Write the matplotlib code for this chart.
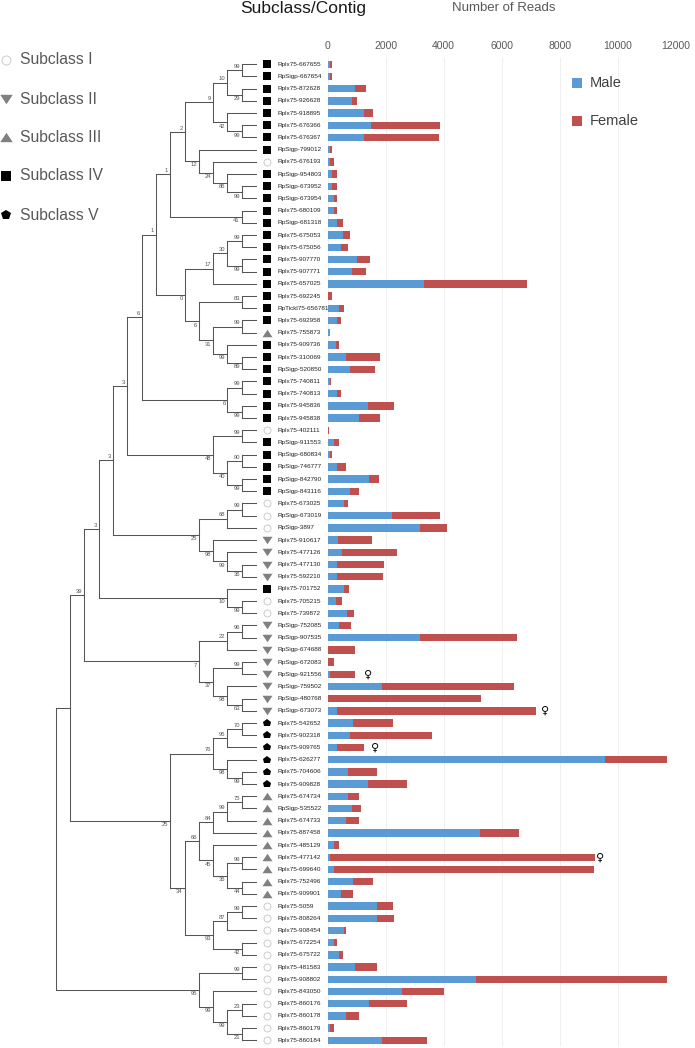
import matplotlib
matplotlib.use("Agg")
import matplotlib.pyplot as plt

plt.rcParams['font.family'] = ['Liberation Sans', 'DejaVu Sans']

# Contigs in tree order (top to bottom) and their subclass (1..5)
contigs = [
    "Rplx75-667655", "RpSigp-667654", "Rplx75-872628", "Rplx75-926628", "Rplx75-918895",
    "Rplx75-676366", "Rplx75-676367", "RpSigp-799012", "Rplx75-676193", "RpSigp-954803",
    "RpSigp-673952", "RpSigp-673954", "Rplx75-680109", "RpSigp-681318", "Rplx75-675053",
    "Rplx75-675056", "Rplx75-907770", "Rplx75-907771", "Rplx75-657025", "Rplx75-692245",
    "RpTickl75-656781", "Rplx75-692958", "Rplx75-755873", "Rplx75-909736", "Rplx75-310069",
    "RpSigp-520850", "Rplx75-740811", "Rplx75-740813", "Rplx75-945836", "Rplx75-945838",
    "Rplx75-402111", "RpSigp-911553", "RpSigp-680834", "RpSigp-746777", "RpSigp-842790",
    "RpSigp-843116", "Rplx75-673025", "RpSigp-673019", "RpSigp-3897", "Rplx75-910617",
    "Rplx75-477126", "Rplx75-477130", "Rplx75-592210", "Rplx75-701752", "Rplx75-705215",
    "Rplx75-739872", "RpSigp-752085", "RpSigp-907535", "RpSigp-674688", "RpSigp-672083",
    "RpSigp-921556", "RpSigp-759502", "RpSigp-480768", "RpSigp-673073", "Rplx75-542652",
    "Rplx75-902318", "Rplx75-909765", "Rplx75-626277", "Rplx75-704606", "Rplx75-909828",
    "Rplx75-674734", "RpSigp-535522", "Rplx75-674733", "Rplx75-887458", "Rplx75-485129",
    "Rplx75-477142", "Rplx75-699640", "Rplx75-752496", "Rplx75-909901", "Rplx75-5059",
    "Rplx75-808264", "Rplx75-908454", "Rplx75-672254", "Rplx75-675722", "Rplx75-481583",
    "Rplx75-908802", "Rplx75-843050", "Rplx75-860176", "Rplx75-860178", "Rplx75-860179",
    "Rplx75-860184",
]
subclass = [
    4, 4, 4, 4, 4, 4, 4, 4, 1, 4,
    4, 4, 4, 4, 4, 4, 4, 4, 4, 4,
    4, 4, 3, 4, 4, 4, 4, 4, 4, 4,
    1, 4, 4, 4, 4, 4, 1, 1, 1, 2,
    2, 2, 2, 4, 1, 1, 2, 2, 2, 2,
    2, 2, 2, 2, 5, 5, 5, 5, 5, 5,
    3, 3, 3, 3, 3, 3, 3, 3, 3, 1,
    1, 1, 1, 1, 1, 1, 1, 1, 1, 1,
    1,
]
male = [
    100, 100, 960, 830, 1240, 1510, 1240, 100, 70, 170,
    170, 240, 240, 340, 520, 450, 1030, 830, 3340, 0,
    410, 310, 100, 280, 650, 760, 100, 340, 1410, 1100,
    30, 240, 100, 340, 1440, 760, 570, 2210, 3200, 360,
    510, 340, 340, 570, 280, 660, 410, 3200, 0, 0,
    100, 1890, 30, 340, 890, 760, 340, 9560, 720, 1410,
    720, 860, 620, 5260, 210, 70, 210, 890, 450, 1690,
    1690, 580, 210, 410, 930, 5130, 2580, 1440, 620, 100,
    1860,
]
female = [
    70, 40, 350, 200, 310, 2380, 2610, 40, 140, 140,
    140, 100, 70, 180, 270, 240, 450, 480, 3540, 140,
    170, 140, 0, 100, 1170, 860, 10, 110, 890, 720,
    10, 140, 70, 280, 350, 310, 140, 1650, 930, 1160,
    1870, 1600, 1580, 180, 230, 260, 400, 3340, 960, 240,
    830, 4540, 5270, 6850, 1380, 2850, 900, 2140, 1000, 1340,
    380, 310, 450, 1340, 170, 9150, 8970, 660, 440, 580,
    610, 70, 100, 110, 790, 6570, 1440, 1310, 450, 110,
    1550,
]
# rows flagged with a female sign, and where the sign sits (reads)
female_rows = [50, 53, 56, 65]
female_sign_x = [1380, 7500, 1650, 9390]

# Tree topology (leaf = row index), bootstrap values after the closing bracket
TREE = (
    "(((((((((((((0,1)99,(2,3)29)10,(4,(5,6)99)42)9,(7,(8,(9,(10,11)99)86)24)12)2,(12,13)41)1,"
    "((((14,15)99,(16,17)99)30,18)17,((19,20)83,((21,22)99,(23,(24,25)89)99)31)6)0)1,"
    "((26,27)99,(28,29)99)6)6,"
    "((30,31)99,((32,33)90,(34,35)99)40)48)3,"
    "(((36,37)99,38)68,(39,(40,(41,42)36)99)98)25)3,"
    "(43,(44,45)99)10)3,"
    "(((46,47)96,48)22,((49,50)99,(51,(52,53)63)98)37)7)39,"
    "((((54,55)70,56)95,(57,(58,59)99)98)76,"
    "(((((60,61)75,62)99,63)84,(64,((65,66)99,(67,68)44)36)45)66,"
    "(((69,70)99,71)87,(72,73)42)93)34)25),"
    "((74,75)99,(76,((77,78)23,(79,80)21)99)99)95);"
)

subclass_names = ["Subclass I", "Subclass II", "Subclass III", "Subclass IV", "Subclass V"]

# flattened triangles, like the reference glyphs
TRI_DOWN = [(-1, 0.75), (1, 0.75), (0, -0.75), (-1, 0.75)]
TRI_UP = [(-1, -0.75), (1, -0.75), (0, 0.75), (-1, -0.75)]
MARKERS = {
    1: dict(marker='o', ms=5.0, mfc='white', mec='#c4c4c4', mew=0.6),
    2: dict(marker=TRI_DOWN, ms=7.2, mfc='#808080', mec='#808080', mew=0),
    3: dict(marker=TRI_UP, ms=7.2, mfc='#808080', mec='#808080', mew=0),
    4: dict(marker='s', ms=5.6, mfc='black', mec='black', mew=0),
    5: dict(marker='p', ms=6.2, mfc='black', mec='black', mew=0),
}
BLUE = '#5b9bd5'
RED = '#c0504d'
LINE = '#555555'

W, H = 695, 1048
LEAF_X = 256.0
STEP = 14.3
ROW0_PX, ROW_STEP_PX = 64.3, 12.2


def parse_newick(s):
    pos = 0

    def node():
        nonlocal pos
        if s[pos] == '(':
            pos += 1
            kids = [node()]
            while s[pos] == ',':
                pos += 1
                kids.append(node())
            pos += 1  # closing bracket
            start = pos
            while s[pos] not in ',);':
                pos += 1
            return {'kids': kids, 'label': s[start:pos]}
        start = pos
        while s[pos] not in ',)':
            pos += 1
        return {'leaf': int(s[start:pos])}

    return node()


def layout(n):
    """Cladogram layout: leaves aligned, each node one step left of its deepest child."""
    if 'leaf' in n:
        n['h'] = 0
        n['y'] = n['leaf']
    else:
        for k in n['kids']:
            layout(k)
        n['h'] = max(k['h'] for k in n['kids']) + 1
        n['y'] = (n['kids'][0]['y'] + n['kids'][-1]['y']) / 2.0
    n['x'] = LEAF_X - STEP * n['h']


def draw_tree(ax, n):
    if 'kids' not in n:
        return
    ax.plot([n['x'], n['x']], [n['kids'][0]['y'], n['kids'][-1]['y']], color=LINE, lw=0.75)
    for i, k in enumerate(n['kids']):
        ax.plot([n['x'], k['x']], [k['y'], k['y']], color=LINE, lw=0.75)
        if k.get('label'):
            above = (i == 0)
            ax.annotate(k['label'], (k['x'], k['y']),
                        xytext=(-1.3, 0.9 if above else -0.9), textcoords='offset points',
                        ha='right', va='bottom' if above else 'top',
                        fontsize=4.2, color='#555555')
        draw_tree(ax, k)


fig = plt.figure(figsize=(W / 100, H / 100), dpi=100)
fig.patch.set_facecolor('white')

n_rows = len(contigs)
top_px = ROW0_PX - ROW_STEP_PX / 2
bot_px = ROW0_PX + ROW_STEP_PX * (n_rows - 0.5)
ax_pos_y = 1 - bot_px / H
ax_pos_h = (bot_px - top_px) / H

# Bars (drawn first so the tree labels sit on top)
ax_bar = fig.add_axes([327.5 / W, ax_pos_y, 348.5 / W, ax_pos_h])
ax_bar.patch.set_alpha(0)
rows = list(range(n_rows))
ax_bar.barh(rows, male, height=0.6, color=BLUE, label='Male', zorder=2)
ax_bar.barh(rows, female, left=male, height=0.6, color=RED, label='Female', zorder=2)
for r, xv in zip(female_rows, female_sign_x):
    ax_bar.text(xv, r, '\u2640', fontsize=8, va='center', ha='center', color='black',
                family=['DejaVu Sans'], zorder=3)
ax_bar.set_xlim(0, 12000)
ax_bar.set_ylim(n_rows - 0.5, -0.5)
ax_bar.set_xticks(range(0, 12001, 2000))
ax_bar.set_yticks([])
ax_bar.xaxis.tick_top()
ax_bar.tick_params(axis='x', length=0, pad=5, labelsize=7.5, labelcolor='#595959')
for lbl in ax_bar.get_xticklabels():
    lbl.set_family(['Liberation Sans Narrow', 'Liberation Sans'])
ax_bar.grid(axis='x', color='#ededed', lw=0.6, zorder=0)
ax_bar.set_axisbelow(True)
for spine in ['top', 'right', 'left', 'bottom']:
    ax_bar.spines[spine].set_visible(False)

# Tree + labels, x in pixels, y in rows
ax_tree = fig.add_axes([0, ax_pos_y, 1, ax_pos_h])
ax_tree.set_xlim(0, W)
ax_tree.set_ylim(n_rows - 0.5, -0.5)
ax_tree.axis('off')
ax_tree.patch.set_alpha(0)

root = parse_newick(TREE)
layout(root)
draw_tree(ax_tree, root)

for row, (name, sc) in enumerate(zip(contigs, subclass)):
    ax_tree.plot(267, row, ls='none', **MARKERS[sc])
    ax_tree.text(278, row, name, fontsize=4.6, va='center', ha='left', color='#222222')

# Overlay in pixel coordinates for headers and legends
ax_over = fig.add_axes([0, 0, 1, 1])
ax_over.set_xlim(0, W)
ax_over.set_ylim(H, 0)
ax_over.axis('off')
ax_over.patch.set_alpha(0)

ax_over.text(303, 8, "Subclass/Contig", fontsize=12.5, ha='center', va='center', color='#1a1a1a')
ax_over.text(504, 8, "Number of Reads", fontsize=9.5, ha='center', va='center', color='#595959')

legend_y = [60, 99, 137, 176, 215]
legend_ms = [6.5, 9.0, 9.0, 7.0, 7.6]
for sc, (name, y, ms) in enumerate(zip(subclass_names, legend_y, legend_ms), start=1):
    style = dict(MARKERS[sc])
    style['ms'] = ms
    ax_over.plot(6, y, ls='none', **style)
    ax_over.text(20, y, name, fontsize=11.3, va='center', ha='left', color='#595959')

for y, col, name in [(83, BLUE, 'Male'), (121, RED, 'Female')]:
    ax_over.plot(577, y, ls='none', marker='s', ms=7, mfc=col, mec=col, mew=0)
    ax_over.text(590, y, name, fontsize=10.5, va='center', ha='left', color='#404040')

fig.savefig('out.png', dpi=100, facecolor='white')
